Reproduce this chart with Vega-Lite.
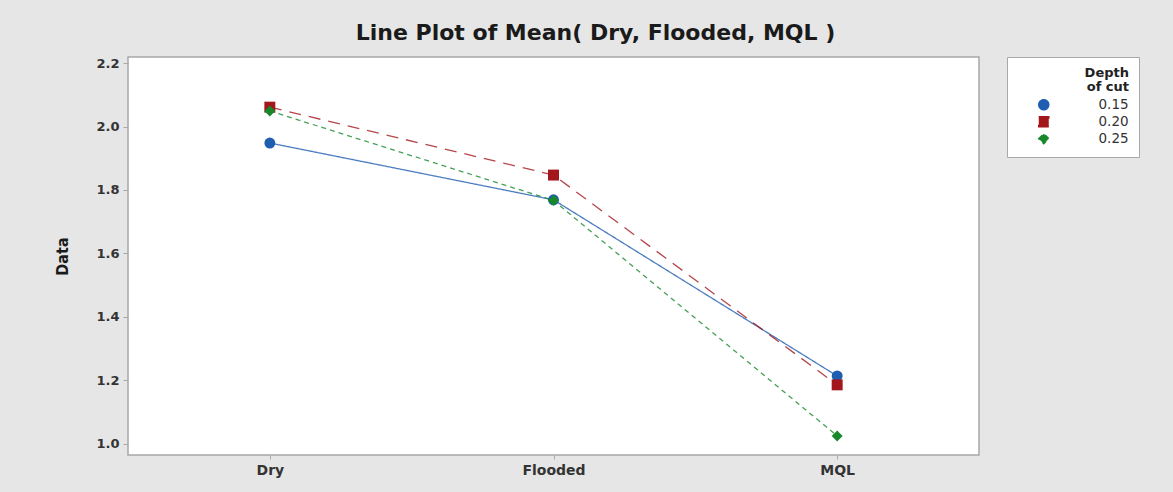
{
  "$schema": "https://vega.github.io/schema/vega-lite/v6.json",
  "autosize": {"type": "none"},
  "width": 851,
  "height": 398,
  "padding": {"left": 128, "top": 57, "right": 194, "bottom": 37},
  "background": "#e6e6e6",
  "title": {
    "text": "Line Plot of Mean( Dry, Flooded, MQL )",
    "font": "DejaVu Sans",
    "fontSize": 22,
    "fontWeight": "bold",
    "color": "#1a1a1a",
    "anchor": "middle",
    "dx": 42,
    "offset": 12
  },
  "data": {
    "values": [
      {"condition": "Dry", "depth": "0.15", "mean": 1.948},
      {"condition": "Flooded", "depth": "0.15", "mean": 1.769},
      {"condition": "MQL", "depth": "0.15", "mean": 1.214},
      {"condition": "Dry", "depth": "0.20", "mean": 2.061},
      {"condition": "Flooded", "depth": "0.20", "mean": 1.847},
      {"condition": "MQL", "depth": "0.20", "mean": 1.186},
      {"condition": "Dry", "depth": "0.25", "mean": 2.049},
      {"condition": "Flooded", "depth": "0.25", "mean": 1.767},
      {"condition": "MQL", "depth": "0.25", "mean": 1.025}
    ]
  },
  "encoding": {
    "x": {
      "field": "condition",
      "type": "nominal",
      "sort": ["Dry", "Flooded", "MQL"],
      "scale": {"type": "point", "padding": 0.5},
      "axis": {
        "title": null,
        "labelAngle": 0,
        "labelFont": "DejaVu Sans",
        "labelFontSize": 14,
        "labelFontWeight": "bold",
        "labelColor": "#333333",
        "labelPadding": 4,
        "domain": false,
        "tickColor": "#a8a8a8",
        "tickSize": 4,
        "grid": false
      }
    },
    "y": {
      "field": "mean",
      "type": "quantitative",
      "scale": {"domain": [0.965, 2.219], "nice": false, "zero": false},
      "axis": {
        "title": "Data",
        "titleFont": "Liberation Sans Narrow, DejaVu Sans Condensed, Liberation Sans",
        "titleFontSize": 16,
        "titleFontWeight": "bold",
        "titleColor": "#1a1a1a",
        "titlePadding": 25,
        "values": [1.0, 1.2, 1.4, 1.6, 1.8, 2.0, 2.2],
        "format": ".1f",
        "labelFont": "DejaVu Sans",
        "labelFontSize": 13,
        "labelFontWeight": "bold",
        "labelColor": "#333333",
        "labelPadding": 4,
        "domain": false,
        "tickColor": "#a8a8a8",
        "tickSize": 5,
        "grid": false
      }
    },
    "color": {
      "field": "depth",
      "type": "nominal",
      "scale": {"domain": ["0.15", "0.20", "0.25"], "range": ["#1f5db0", "#a3161b", "#17882a"]},
      "legend": {
        "title": ["Depth", "of cut"],
        "orient": "none",
        "legendX": 879,
        "legendY": 0,
        "fillColor": "white",
        "strokeColor": "#a8a8a8",
        "padding": 10,
        "titleFont": "DejaVu Sans",
        "titleFontSize": 13,
        "titleFontWeight": "bold",
        "titleColor": "#222222",
        "titleAnchor": "end",
        "titleAlign": "right",
        "titleLineHeight": 14,
        "titlePadding": 4,
        "labelFont": "DejaVu Sans",
        "labelFontSize": 13.5,
        "labelColor": "#333333",
        "labelOffset": 48,
        "symbolOffset": 20,
        "symbolSize": 100,
        "symbolOpacity": 1,
        "rowPadding": 0
      }
    }
  },
  "layer": [
    {
      "mark": {"type": "line", "strokeWidth": 1.3, "opacity": 0.8},
      "encoding": {
        "strokeDash": {
          "field": "depth",
          "type": "nominal",
          "scale": {"domain": ["0.15", "0.20", "0.25"], "range": [[1, 0], [12, 8], [5, 4]]},
          "legend": null
        }
      }
    },
    {
      "mark": {"type": "point", "filled": true, "opacity": 1, "size": 120},
      "encoding": {
        "shape": {
          "field": "depth",
          "type": "nominal",
          "scale": {"domain": ["0.15", "0.20", "0.25"], "range": ["circle", "square", "diamond"]},
          "legend": null
        }
      }
    }
  ],
  "config": {
    "view": {"fill": "white", "stroke": "#a8a8a8", "strokeWidth": 1.5}
  }
}
